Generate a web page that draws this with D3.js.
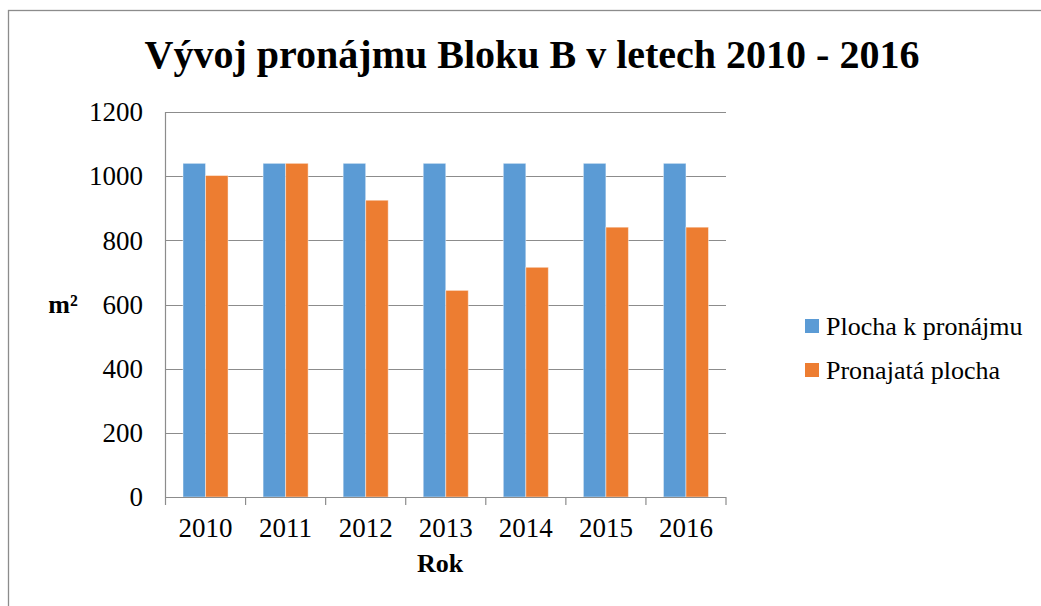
<!DOCTYPE html>
<html>
<head>
<meta charset="utf-8">
<script src="https://cdn.jsdelivr.net/npm/d3@7"></script>
<style>
  body { margin: 0; background: #fff; }
  svg text { font-family: "Times New Roman", "Liberation Serif", Tinos, "DejaVu Serif", serif; }
</style>
</head>
<body>
<div id="chart"></div>
<script>
// Chart data
const years = ["2010", "2011", "2012", "2013", "2014", "2015", "2016"];
const seriesNames = ["Plocha k pronájmu", "Pronajatá plocha"];
const plochaKPronajmu = [1040, 1040, 1040, 1040, 1040, 1040, 1040];
const pronajataPlocha = [1002, 1040, 925, 644, 716, 841, 841];
const yTicks = [0, 200, 400, 600, 800, 1000, 1200];
const colors = ["#5B9BD5", "#ED7D31"];

const width = 1041;
const height = 606;
const plot = { left: 165.5, right: 726, top: 112, bottom: 497 };
const serif = "'Times New Roman', 'Liberation Serif', Tinos, 'DejaVu Serif', serif";

const svg = d3.select("#chart")
    .append("svg")
    .attr("width", width)
    .attr("height", height)
    .attr("font-family", serif);

// outer frame (runs off the right/bottom edge like the reference)
svg.append("rect")
    .attr("x", 8.5)
    .attr("y", 10.5)
    .attr("width", width + 20)
    .attr("height", height + 20)
    .attr("fill", "none")
    .attr("stroke", "#8c8c8c")
    .attr("stroke-width", 1.3);

const x0 = d3.scaleBand()
    .domain(years)
    .range([plot.left, plot.right])
    .paddingInner(0.4375)
    .paddingOuter(0.21875);

const x1 = d3.scaleBand()
    .domain(seriesNames)
    .range([0, x0.bandwidth()]);

const y = d3.scaleLinear()
    .domain([0, 1200])
    .range([plot.bottom, plot.top]);

// gridlines
svg.append("g")
    .selectAll("line")
    .data(yTicks.filter(d => d > 0))
    .join("line")
    .attr("x1", plot.left)
    .attr("x2", plot.right)
    .attr("y1", d => Math.round(y(d)) + 0.5)
    .attr("y2", d => Math.round(y(d)) + 0.5)
    .attr("stroke", "#8c8c8c")
    .attr("stroke-width", 1.2);

// bars
const rows = years.map((yr, i) => ({
    year: yr,
    values: [plochaKPronajmu[i], pronajataPlocha[i]]
}));

svg.append("g")
    .selectAll("g")
    .data(rows)
    .join("g")
    .attr("transform", d => `translate(${x0(d.year)},0)`)
    .selectAll("rect")
    .data(d => d.values.map((v, j) => ({ key: seriesNames[j], value: v, idx: j })))
    .join("rect")
    .attr("x", d => x1(d.key))
    .attr("y", d => y(d.value))
    .attr("width", x1.bandwidth())
    .attr("height", d => y(0) - y(d.value))
    .attr("fill", d => colors[d.idx])
    .attr("stroke", "rgba(255,255,255,0.45)")
    .attr("stroke-width", 1);

// y axis line
svg.append("line")
    .attr("x1", plot.left).attr("x2", plot.left)
    .attr("y1", plot.top).attr("y2", plot.bottom)
    .attr("stroke", "#8c8c8c")
    .attr("stroke-width", 1.2);

// x axis line with ticks at category boundaries
const xAxis = svg.append("g");
xAxis.append("line")
    .attr("x1", plot.left).attr("x2", plot.right)
    .attr("y1", plot.bottom + 0.5).attr("y2", plot.bottom + 0.5)
    .attr("stroke", "#8c8c8c")
    .attr("stroke-width", 1.2);

const boundaries = years.map(yr => x0(yr) - x0.step() * x0.paddingOuter());
boundaries.push(plot.right);
xAxis.selectAll("line.tick")
    .data(boundaries)
    .join("line")
    .attr("class", "tick")
    .attr("x1", d => d).attr("x2", d => d)
    .attr("y1", plot.bottom).attr("y2", plot.bottom + 8)
    .attr("stroke", "#8c8c8c")
    .attr("stroke-width", 1.2);

xAxis.selectAll("text")
    .data(years)
    .join("text")
    .attr("x", d => x0(d) + x0.bandwidth() / 2)
    .attr("y", 537)
    .attr("text-anchor", "middle")
    .attr("font-size", 27)
    .attr("fill", "#000")
    .text(d => d);

// y tick labels
svg.append("g")
    .selectAll("text")
    .data(yTicks)
    .join("text")
    .attr("x", 143)
    .attr("y", d => y(d))
    .attr("dy", "0.34em")
    .attr("text-anchor", "end")
    .attr("font-size", 27)
    .attr("fill", "#000")
    .text(d => d);

// title
svg.append("text")
    .attr("x", 532)
    .attr("y", 68)
    .attr("text-anchor", "middle")
    .attr("font-size", 40)
    .attr("font-weight", "bold")
    .text("Vývoj pronájmu Bloku B v letech 2010 - 2016");

// axis titles
svg.append("text")
    .attr("x", 63)
    .attr("y", 313)
    .attr("text-anchor", "middle")
    .attr("font-size", 26)
    .attr("font-weight", "bold")
    .text("m²");

svg.append("text")
    .attr("x", 440)
    .attr("y", 572)
    .attr("text-anchor", "middle")
    .attr("font-size", 26)
    .attr("font-weight", "bold")
    .text("Rok");

// legend
const legend = svg.append("g")
    .selectAll("g")
    .data(seriesNames)
    .join("g")
    .attr("transform", (d, i) => `translate(805,${326 + i * 44})`);

legend.append("rect")
    .attr("x", 0)
    .attr("y", -7)
    .attr("width", 14)
    .attr("height", 14)
    .attr("fill", (d, i) => colors[i]);

legend.append("text")
    .attr("x", 21)
    .attr("y", 0)
    .attr("dy", "0.33em")
    .attr("font-size", 26)
    .text(d => d);
</script>
</body>
</html>
